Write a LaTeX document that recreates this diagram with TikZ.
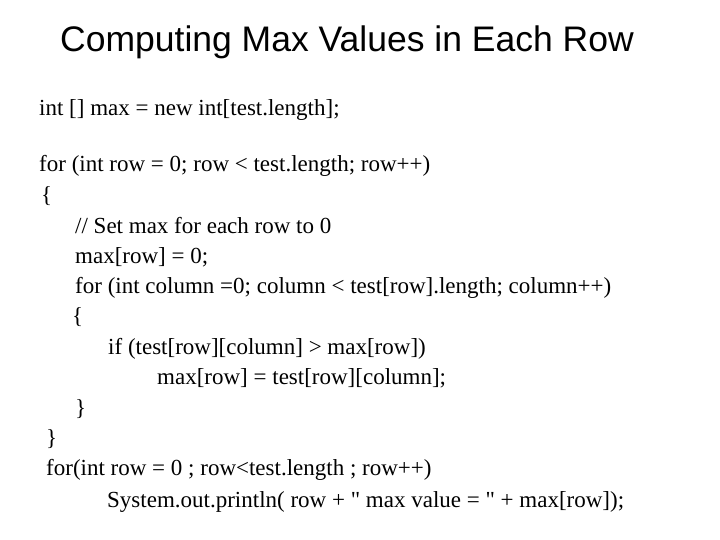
\documentclass[tikz,border=0pt]{standalone}
\usepackage{fontspec}
\setmainfont{Liberation Serif}
\newfontfamily\rawserif{Liberation Serif}
\newfontfamily\titlefont{Liberation Sans}
\begin{document}
\begin{tikzpicture}[x=1pt,y=-1pt,
  code/.style={anchor=west,inner sep=0pt,font=\fontsize{23}{27}\selectfont,text height=16pt,text depth=5pt}]
\useasboundingbox (0,0) rectangle (720,540);
\node[font=\titlefont\fontsize{35.5}{40}\selectfont,inner sep=0pt] (title) at (347,42) {Computing Max Values in Each Row};
\node[code] (l1) at (39,110) {int [] max = new int[test.length];};
\node[code] (l2) at (39,166) {for (int row = 0; row < test.length; row++)};
\node[code] (l3) at (41,197) {\{};
\node[code] (l4) at (75,228) {// Set max for each row to 0};
\node[code] (l5) at (75,258) {max[row] = 0;};
\node[code] (l6) at (75,288) {for (int column =0; column < test[row].length; column++)};
\node[code] (l7) at (72,318) {\{};
\node[code] (l8) at (108,349) {if (test[row][column] > max[row])};
\node[code] (l9) at (157,379) {max[row] = test[row][column];};
\node[code] (l10) at (75,410) {\}};
\node[code] (l11) at (46,440) {\}};
\node[code] (l12) at (46,470) {for(int row = 0 ; row<test.length ; row++)};
\node[code] (l13) at (107,502) {System.out.println( row + {\rawserif"} max value = {\rawserif"} + max[row]);};
\end{tikzpicture}
\end{document}
